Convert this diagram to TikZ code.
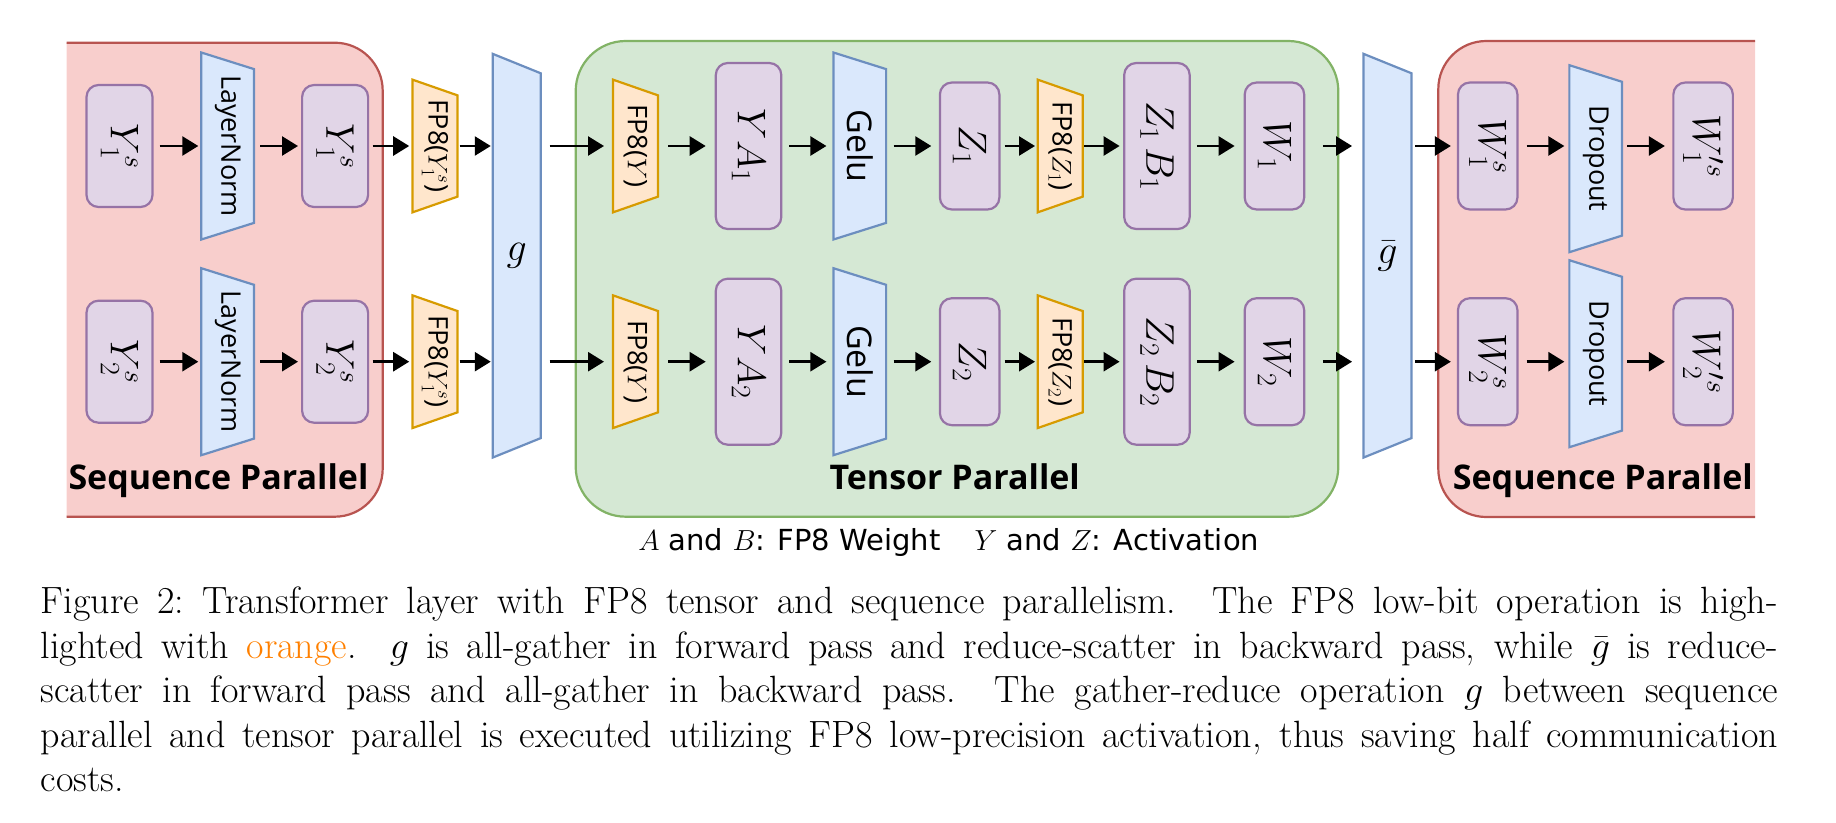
\documentclass[tikz,border=0pt]{standalone}
\usepackage{fix-cm}
\usepackage{amsmath}
\usepackage{fontspec}
\setsansfont{Open Sans}
\newfontfamily\legendfont{DejaVu Sans}
\usetikzlibrary{positioning,arrows.meta,backgrounds}

\definecolor{seqfill}{HTML}{F8CECC}
\definecolor{seqline}{HTML}{B85450}
\definecolor{tenfill}{HTML}{D5E8D4}
\definecolor{tenline}{HTML}{82B366}
\definecolor{varfill}{HTML}{E1D5E7}
\definecolor{varline}{HTML}{9673A6}
\definecolor{opfill}{HTML}{DAE8FC}
\definecolor{opline}{HTML}{6C8EBF}
\definecolor{qfill}{HTML}{FFE6CC}
\definecolor{qline}{HTML}{D79B00}
\definecolor{capor}{HTML}{FF8000}

\newcommand{\vlab}[1]{\rotatebox{-90}{#1}}
% trapezium drawn on the box of a node: style, node, inset of the right side
\newcommand{\trapz}[3]{\filldraw[#1] (#2.north west) -- ([yshift=-#3]#2.north east) -- ([yshift=#3]#2.south east) -- (#2.south west) -- cycle;}

\begin{document}
\begin{tikzpicture}
		[x=1pt,y=-1pt,
		var/.style={rectangle,rounded corners=12pt,draw=varline,fill=varfill,line width=2.2pt,inner sep=0pt,minimum width=59.5pt,minimum height=127pt,font=\fontsize{40}{40}\selectfont},
		seqvar/.style={var,minimum width=66pt,minimum height=122pt},
		tallvar/.style={var,minimum width=65.5pt,minimum height=166pt},
		norm/.style={rectangle,inner sep=0pt,minimum width=52.3pt,minimum height=186.6pt,font=\sffamily\fontsize{27}{27}\selectfont},
		fpq/.style={rectangle,inner sep=0pt,minimum width=44.6pt,minimum height=132.3pt,font=\sffamily\fontsize{27}{27}\selectfont},
		comm/.style={rectangle,inner sep=0pt,minimum width=47.5pt,minimum height=403.3pt,font=\fontsize{40}{40}\selectfont},
		opshape/.style={fill=opfill,draw=opline,line width=2.2pt},
		qshape/.style={fill=qfill,draw=qline,line width=2.2pt},
		seqbox/.style={fill=seqfill,draw=seqline,line width=2.2pt,rounded corners=48pt},
		tenbox/.style={fill=tenfill,draw=tenline,line width=2.2pt,rounded corners=50pt},
		arr/.style={-{Triangle[length=16pt,width=19pt]},line width=2.6pt,shorten <=6pt,shorten >=3pt},
		title/.style={anchor=base west,inner sep=0pt,font=\sffamily\bfseries\fontsize{34}{34}\selectfont},
		capline/.style={anchor=base west,inner sep=0pt,font=\fontsize{38}{44.6}\selectfont}]
		\useasboundingbox (0,0) rectangle (1836,822);
		\coordinate (r1) at (0,146);
		\coordinate (r2) at (0,361.7);

		% first row
		\node [seqvar] (in1) at (119.5,146) {\vlab{$Y^s_1$}};
		\node [norm] (ln1) [right=47.7pt of in1] {\vlab{LayerNorm}};
		\node [seqvar] (out1) [right=47pt of ln1] {\vlab{$Y^s_1$}};
		\node [fpq] (q1) [right=43.3pt of out1] {\vlab{FP8($Y^s_1$)}};
		\node [comm] (g) at (516.7,255.7) {$g$};
		\node [fpq] (qy1) at (635.5,146) {\vlab{FP8($Y$)}};
		\node [tallvar] (ya1) [right=56.7pt of qy1] {\vlab{$YA_1$}};
		\node [norm,font=\sffamily\fontsize{34}{34}\selectfont] (gelu1) [right=51pt of ya1] {\vlab{Gelu}};
		\node [var] (z1) [right=52.7pt of gelu1] {\vlab{$Z_1$}};
		\node [fpq] (qz1) [right=37.2pt of z1] {\vlab{FP8($Z_1$)}};
		\node [tallvar] (zb1) [right=40.4pt of qz1] {\vlab{$Z_1\,B_1$}};
		\node [var] (w1) [right=52.8pt of zb1] {\vlab{$W_1$}};
		\node [comm] (gb) at (1387.5,255.7) {$\bar{g}$};
		\node [var] (ws1) at (1487.7,146) {\vlab{$W^s_1$}};
		\node [norm] (drop1) [right=50.8pt of ws1,yshift=-12.7pt] {\vlab{Dropout}};
		\node [var] (wo1) [right=50.2pt of drop1,yshift=12.7pt] {\vlab{$W'^s_1$}};

		% second row
		\node [seqvar] (in2) at (in1 |- r2) {\vlab{$Y^s_2$}};
		\node [norm] (ln2) at (ln1 |- r2) {\vlab{LayerNorm}};
		\node [seqvar] (out2) at (out1 |- r2) {\vlab{$Y^s_2$}};
		\node [fpq] (q2) at (q1 |- r2) {\vlab{FP8($Y^s_1$)}};
		\node [fpq] (qy2) at (qy1 |- r2) {\vlab{FP8($Y$)}};
		\node [tallvar] (ya2) at (ya1 |- r2) {\vlab{$YA_2$}};
		\node [norm,font=\sffamily\fontsize{34}{34}\selectfont] (gelu2) at (gelu1 |- r2) {\vlab{Gelu}};
		\node [var] (z2) at (z1 |- r2) {\vlab{$Z_2$}};
		\node [fpq] (qz2) at (qz1 |- r2) {\vlab{FP8($Z_2$)}};
		\node [tallvar] (zb2) at (zb1 |- r2) {\vlab{$Z_2\,B_2$}};
		\node [var] (w2) at (w1 |- r2) {\vlab{$W_2$}};
		\node [var] (ws2) at (ws1 |- r2) {\vlab{$W^s_2$}};
		\node [norm,yshift=8pt] (drop2) at (drop1 |- r2) {\vlab{Dropout}};
		\node [var] (wo2) at (wo1 |- r2) {\vlab{$W'^s_2$}};

		% group titles and legend
		\node [title] (seqL) at (68.3,489.3) {Sequence Parallel};
		\node [title] (tenL) at (829.3,489.3) {Tensor Parallel};
		\node [title] (seqR) at (1452.7,489.3) {Sequence Parallel};
		\node [anchor=base,inner sep=0pt,font=\legendfont\fontsize{29}{29}\selectfont] (legend) at (948.7,550) {$A$ and $B$: FP8 Weight\hspace{34pt}$Y$ and $Z$: Activation};

		% caption
		\node [capline] (cap1) at (40.7,613.3) {\makebox[1737pt][s]{Figure 2:\ Transformer layer with FP8 tensor and sequence parallelism. The FP8 low-bit operation is high-}};
		\node [capline] (cap2) at (40.7,658) {\makebox[1737pt][s]{lighted with \textcolor{capor}{orange}. $g$ is all-gather in forward pass and reduce-scatter in backward pass, while $\bar{g}$ is reduce-}};
		\node [capline] (cap3) at (40.7,702.7) {\makebox[1737pt][s]{scatter in forward pass and all-gather in backward pass. The gather-reduce operation $g$ between sequence}};
		\node [capline] (cap4) at (40.7,747.3) {\makebox[1737pt][s]{parallel and tensor parallel is executed utilizing FP8 low-precision activation, thus saving half communication}};
		\node [capline] (cap5) at (40.7,791.7) {costs.};

		% arrows, first row
		\draw [arr] (in1) -- (ln1);
		\draw [arr] (ln1) -- (out1);
		\draw [arr,shorten <=3.3pt,shorten >=3.3pt] (out1) -- (q1);
		\draw [arr,shorten <=2pt,shorten >=2pt] (q1) -- (q1 -| g.west);
		\draw [arr,shorten <=9pt,shorten >=9pt] (g.east |- qy1) -- (qy1);
		\draw [arr,shorten <=10pt,shorten >=9pt] (qy1) -- (ya1);
		\draw [arr,shorten <=7pt,shorten >=7pt] (ya1) -- (gelu1);
		\draw [arr,shorten <=7.5pt,shorten >=7.5pt] (gelu1) -- (z1);
		\draw [arr,shorten <=4pt,shorten >=2.7pt] (z1) -- (qz1);
		\draw [arr,shorten <=1.5pt,shorten >=3.5pt] (qz1) -- (zb1);
		\draw [arr,shorten <=6pt,shorten >=9pt] (zb1) -- (w1);
		\draw [arr,shorten <=17.5pt,shorten >=11.5pt] (w1) -- (w1 -| gb.west);
		\draw [arr,shorten <=3.7pt,shorten >=6pt] (gb.east |- ws1) -- (ws1);
		\draw [arr,shorten <=8pt,shorten >=5pt] (ws1) -- (ws1 -| drop1.west);
		\draw [arr,shorten <=5.3pt,shorten >=7.4pt] (drop1.east |- wo1) -- (wo1);

		% arrows, second row
		\draw [arr] (in2) -- (ln2);
		\draw [arr] (ln2) -- (out2);
		\draw [arr,shorten <=3.3pt,shorten >=3.3pt] (out2) -- (q2);
		\draw [arr,shorten <=2pt,shorten >=2pt] (q2) -- (q2 -| g.west);
		\draw [arr,shorten <=9pt,shorten >=9pt] (g.east |- qy2) -- (qy2);
		\draw [arr,shorten <=10pt,shorten >=9pt] (qy2) -- (ya2);
		\draw [arr,shorten <=7pt,shorten >=7pt] (ya2) -- (gelu2);
		\draw [arr,shorten <=7.5pt,shorten >=7.5pt] (gelu2) -- (z2);
		\draw [arr,shorten <=4pt,shorten >=2.7pt] (z2) -- (qz2);
		\draw [arr,shorten <=1.5pt,shorten >=3.5pt] (qz2) -- (zb2);
		\draw [arr,shorten <=6pt,shorten >=9pt] (zb2) -- (w2);
		\draw [arr,shorten <=17.5pt,shorten >=11.5pt] (w2) -- (w2 -| gb.west);
		\draw [arr,shorten <=3.7pt,shorten >=6pt] (gb.east |- ws2) -- (ws2);
		\draw [arr,shorten <=8pt,shorten >=5pt] (ws2) -- (ws2 -| drop2.west);
		\draw [arr,shorten <=5.3pt,shorten >=7.4pt] (drop2.east |- wo2) -- (wo2);

		\begin{pgfonlayer}{background}
			% parallel regions, the red ones run off the page
			\begin{scope}
				\clip (66.7,0) rectangle (1755,822);
				\draw [seqbox] (0,42.7) rectangle (382.7,516.7);
				\draw [seqbox] (1438.3,41) rectangle (1836,517);
			\end{scope}
			\draw [tenbox] (575.7,41) rectangle (1338.3,516.7);
			% operator shapes
			\trapz{opshape}{ln1}{16.6pt} \trapz{opshape}{ln2}{16.6pt}
			\trapz{opshape}{gelu1}{16.6pt} \trapz{opshape}{gelu2}{16.6pt}
			\trapz{opshape}{drop1}{16.6pt} \trapz{opshape}{drop2}{16.6pt}
			\trapz{opshape}{g}{19.4pt} \trapz{opshape}{gb}{19.4pt}
			\trapz{qshape}{q1}{15.7pt} \trapz{qshape}{q2}{15.7pt}
			\trapz{qshape}{qy1}{15.7pt} \trapz{qshape}{qy2}{15.7pt}
			\trapz{qshape}{qz1}{15.7pt} \trapz{qshape}{qz2}{15.7pt}
		\end{pgfonlayer}
	\end{tikzpicture}
\end{document}
